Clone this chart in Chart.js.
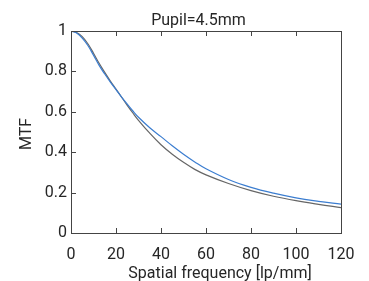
<!DOCTYPE html>
<html>
<head>
<meta charset="utf-8">
<script src="https://cdn.jsdelivr.net/npm/chart.js@4/dist/chart.umd.min.js"></script>
<style>
  html, body { margin: 0; padding: 0; background: #ffffff; }
  #wrap { width: 369px; height: 281px; position: relative; }
</style>
</head>
<body>
<div id="wrap"><canvas id="c" width="369" height="281"></canvas></div>
<script>
// ---- data ----
const titleText = 'Pupil=4.5mm';
const xTitle = 'Spatial frequency [lp/mm]';
const yTitle = 'MTF';
const freq = [0, 2.5, 5, 7.5, 10, 12.5, 15, 17.5, 20, 22.5, 25, 27.5, 30, 35, 40, 45, 50, 55, 60, 70, 80, 90, 100, 110, 120];
const blueMTF = [1.00, 0.99, 0.965, 0.928, 0.88, 0.83, 0.787, 0.747, 0.71, 0.673, 0.638, 0.604, 0.573, 0.521, 0.477, 0.432, 0.39, 0.352, 0.318, 0.265, 0.226, 0.197, 0.174, 0.157, 0.143];
const grayMTF = [1.00, 0.993, 0.972, 0.937, 0.89, 0.84, 0.795, 0.752, 0.712, 0.672, 0.632, 0.594, 0.558, 0.494, 0.437, 0.39, 0.35, 0.315, 0.288, 0.245, 0.21, 0.182, 0.16, 0.142, 0.126];
const xTicks = [0, 20, 40, 60, 80, 100, 120];
const yTicks = [0, 0.2, 0.4, 0.6, 0.8, 1];

const textColor = '#262626';
const axisColor = '#444444';
const FONT = 'Roboto, "Noto Sans", sans-serif';

const framePlugin = {
  id: 'frame',
  afterDatasetsDraw(chart) {
    const {ctx, chartArea: a, scales: {x, y}} = chart;
    ctx.save();
    ctx.strokeStyle = axisColor;
    ctx.lineWidth = 1;
    ctx.strokeRect(Math.round(a.left) + 0.5, Math.round(a.top) + 0.5,
                   Math.round(a.right - a.left), Math.round(a.bottom - a.top));
    const L = 5;
    ctx.beginPath();
    xTicks.forEach(v => {
      const px = Math.round(x.getPixelForValue(v)) + 0.5;
      ctx.moveTo(px, a.bottom); ctx.lineTo(px, a.bottom - L);
      ctx.moveTo(px, a.top); ctx.lineTo(px, a.top + L);
    });
    yTicks.forEach(v => {
      const py = Math.round(y.getPixelForValue(v)) + 0.5;
      ctx.moveTo(a.left, py); ctx.lineTo(a.left + L, py);
    });
    ctx.stroke();

    // titles
    ctx.fillStyle = textColor;
    ctx.font = '16px ' + FONT;
    ctx.textBaseline = 'alphabetic';
    ctx.textAlign = 'center';
    ctx.fillText(titleText, (a.left + a.right) / 2 - 7.5, a.top - 6.5);
    ctx.fillText(xTitle, (a.left + a.right) / 2 + 14, a.bottom + 45);
    ctx.translate(a.left - 40, (a.top + a.bottom) / 2 + 2);
    ctx.rotate(-Math.PI / 2);
    ctx.fillText(yTitle, 0, 0);
    ctx.restore();
  }
};

new Chart(document.getElementById('c'), {
  type: 'line',
  data: {
    datasets: [
      {
        label: 'blue',
        data: freq.map((f, i) => ({x: f, y: blueMTF[i]})),
        borderColor: '#3b7dd0',
        borderWidth: 1.2,
        pointRadius: 0,
        fill: false,
        tension: 0.4
      },
      {
        label: 'gray',
        data: freq.map((f, i) => ({x: f, y: grayMTF[i]})),
        borderColor: '#666666',
        borderWidth: 1.2,
        pointRadius: 0,
        fill: false,
        tension: 0.4
      }
    ]
  },
  options: {
    responsive: false,
    animation: false,
    devicePixelRatio: 1,
    layout: { padding: { left: 0, right: 28, top: 31, bottom: 0 } },
    plugins: {
      legend: { display: false },
      tooltip: { enabled: false },
      title: { display: false }
    },
    scales: {
      x: {
        type: 'linear',
        min: 0, max: 120,
        afterBuildTicks: s => { s.ticks = xTicks.map(v => ({value: v})); },
        afterFit: s => { s.height = 48; },
        grid: { display: false, drawTicks: false },
        border: { display: false },
        ticks: { color: textColor, font: { family: FONT, size: 16 }, padding: 12, maxRotation: 0,
                 callback: v => String(v) },
        title: { display: false }
      },
      y: {
        type: 'linear',
        min: 0, max: 1,
        afterBuildTicks: s => { s.ticks = yTicks.map(v => ({value: v})); },
        afterFit: s => { s.width = 71; },
        grid: { display: false, drawTicks: false },
        border: { display: false },
        ticks: { color: textColor, font: { family: FONT, size: 16 }, padding: 4,
                 callback: v => String(v) },
        title: { display: false }
      }
    }
  },
  plugins: [framePlugin]
});
</script>
</body>
</html>
